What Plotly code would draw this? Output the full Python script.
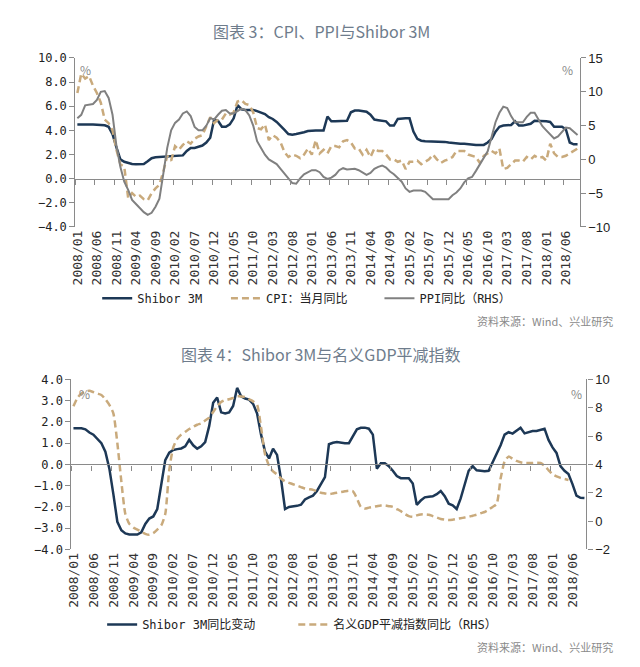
import pandas as pd
import plotly.graph_objects as go

# page body keeps its default 8px margin, so the figure is drawn 8px in from the window edge
OFF = 8
W, H = 640 - 2 * OFF, 667 - 2 * OFF

# months 2008/01 .. 2018/09
months = [p.strftime("%Y/%m") for p in pd.period_range("2008-01", "2018-09", freq="M")]
tick_every = 5

# chart 3 (left axis %, right axis %)
shibor_3m = [
    4.50, 4.52, 4.52, 4.50, 4.50, 4.48, 4.46, 4.42, 4.30, 3.70, 2.60, 1.60,
    1.40, 1.28, 1.22, 1.20, 1.20, 1.22, 1.45, 1.70, 1.78, 1.80, 1.80, 1.82,
    1.85, 1.87, 1.90, 1.93, 2.30, 2.55, 2.55, 2.65, 2.75, 3.00, 3.40, 4.90,
    4.80, 4.30, 4.30, 4.50, 5.00, 6.10, 5.75, 5.70, 5.70, 5.70, 5.60, 5.50,
    5.35, 5.10, 4.95, 4.70, 4.40, 4.05, 3.70, 3.65, 3.70, 3.75, 3.85, 3.95,
    4.00, 4.00, 4.00, 4.00, 5.15, 4.75, 4.75, 4.75, 4.75, 4.80, 5.50, 5.65,
    5.65, 5.60, 5.55, 5.30, 4.90, 4.85, 4.80, 4.75, 4.40, 4.40, 4.95, 5.00,
    5.00, 5.00, 3.90, 3.30, 3.15, 3.10, 3.10, 3.10, 3.05, 3.05, 3.05, 3.00,
    2.95, 2.90, 2.90, 2.90, 2.85, 2.80, 2.80, 2.80, 2.80, 3.00, 3.30, 3.90,
    4.30, 4.40, 4.40, 4.45, 4.75, 4.40, 4.40, 4.45, 4.55, 4.80, 4.80, 4.80,
    4.75, 4.70, 4.30, 4.30, 4.30, 4.10, 3.00, 2.85, 2.85,
]
cpi_yoy = [
    7.1, 8.7, 8.3, 8.5, 7.7, 7.1, 6.3, 4.9, 4.6, 4.0, 2.4, 1.2,
    1.0, -1.6, -1.2, -1.5, -1.4, -1.7, -1.8, -1.2, -0.8, -0.5, 0.6, 1.9,
    1.5, 2.7, 2.4, 2.8, 3.1, 2.9, 3.3, 3.5, 3.6, 4.4, 5.1, 4.6,
    4.9, 4.9, 5.4, 5.3, 5.5, 6.4, 6.5, 6.2, 6.1, 5.5, 4.2, 4.1,
    4.5, 3.2, 3.6, 3.4, 3.0, 2.2, 1.8, 2.0, 1.9, 1.7, 2.0, 2.5,
    2.0, 3.2, 2.1, 2.4, 2.1, 2.7, 2.7, 2.6, 3.1, 3.2, 3.0, 2.5,
    2.5, 2.0, 2.4, 1.8, 2.5, 2.3, 2.3, 2.0, 1.6, 1.6, 1.4, 1.5,
    0.8, 1.4, 1.4, 1.5, 1.2, 1.4, 1.6, 2.0, 1.6, 1.3, 1.5, 1.6,
    1.8, 2.3, 2.3, 2.3, 2.0, 1.9, 1.8, 1.3, 1.9, 2.1, 2.3, 2.1,
    2.5, 0.8, 0.9, 1.2, 1.5, 1.5, 1.4, 1.8, 1.6, 1.9, 1.7, 1.8,
    1.5, 2.9, 2.1, 1.8, 1.8, 1.9, 2.1, 2.3, 2.5,
]
ppi_yoy = [
    6.1, 6.6, 8.0, 8.1, 8.2, 8.8, 10.0, 10.1, 9.1, 6.6, 2.0, -1.1,
    -3.3, -4.5, -6.0, -6.6, -7.2, -7.8, -8.2, -7.9, -7.0, -5.8, -2.1, 1.7,
    4.3, 5.4, 5.9, 6.8, 7.1, 6.4, 4.8, 4.3, 4.3, 5.0, 6.1, 5.9,
    6.6, 7.2, 7.3, 6.8, 6.8, 7.1, 7.5, 7.3, 6.5, 5.0, 2.7, 1.7,
    0.7, 0.0, -0.3, -0.7, -1.4, -2.1, -2.9, -3.5, -3.6, -2.8, -2.2, -1.9,
    -1.6, -1.6, -1.9, -2.6, -2.9, -2.7, -2.3, -1.6, -1.3, -1.5, -1.4, -1.4,
    -1.6, -2.0, -2.3, -2.0, -1.4, -1.1, -0.9, -1.2, -1.8, -2.2, -2.7, -3.3,
    -4.3, -4.8, -4.6, -4.6, -4.6, -4.8, -5.4, -5.9, -5.9, -5.9, -5.9, -5.9,
    -5.3, -4.9, -4.3, -3.4, -2.8, -2.6, -1.7, -0.8, 0.1, 1.2, 3.3, 5.5,
    6.9, 7.8, 7.6, 6.4, 5.5, 5.5, 5.5, 6.3, 6.9, 6.9, 5.8, 4.9,
    4.3, 3.7, 3.1, 3.4, 4.1, 4.7, 4.6, 4.1, 3.6,
]

# chart 4
shibor_yoy_chg = [
    1.70, 1.70, 1.70, 1.65, 1.50, 1.40, 1.20, 1.00, 0.60, -0.20, -1.40, -2.70,
    -3.10, -3.25, -3.30, -3.30, -3.30, -3.20, -2.80, -2.55, -2.45, -2.10, -1.00, 0.20,
    0.55, 0.68, 0.72, 0.75, 0.85, 1.16, 0.90, 0.74, 0.85, 1.05, 1.80, 2.90,
    3.15, 2.45, 2.40, 2.45, 2.75, 3.60, 3.20, 3.10, 3.05, 2.85, 2.40, 1.40,
    0.60, 0.28, 0.74, 0.45, -0.70, -2.10, -2.00, -1.98, -1.95, -1.90, -1.65, -1.55,
    -1.47, -1.25, -0.95, -0.60, 0.95, 1.02, 1.05, 1.02, 1.00, 1.00, 1.35, 1.65,
    1.72, 1.73, 1.68, 1.40, -0.20, 0.05, 0.05, -0.08, -0.30, -0.55, -0.65, -0.65,
    -0.65, -0.90, -1.90, -1.70, -1.55, -1.52, -1.50, -1.40, -1.25, -1.50, -1.85, -1.93,
    -2.10, -1.60, -1.00, -0.30, -0.08, -0.28, -0.30, -0.32, -0.30, 0.10, 0.50, 0.90,
    1.40, 1.52, 1.45, 1.60, 1.72, 1.46, 1.52, 1.57, 1.57, 1.62, 1.68, 1.15,
    0.80, 0.54, -0.08, -0.30, -0.45, -0.93, -1.47, -1.57, -1.58,
]
gdp_deflator_yoy = [
    8.1, 8.7, 9.0, 9.15, 9.2, 9.1, 9.0, 8.9, 8.6, 8.2, 7.6, 5.5,
    2.8, 0.5, -0.2, -0.45, -0.6, -0.75, -0.9, -0.97, -0.85, -0.6, -0.3, 0.5,
    3.6, 5.2, 5.8, 6.1, 6.3, 6.5, 6.65, 6.8, 6.9, 7.1, 7.3, 7.7,
    8.1, 8.4, 8.55, 8.6, 8.7, 8.8, 8.8, 8.75, 8.6, 8.45, 8.2, 6.6,
    4.7, 3.9, 3.5, 3.3, 3.0, 2.8, 2.7, 2.6, 2.5, 2.4, 2.3, 2.25,
    2.2, 2.1, 2.0, 1.95, 1.9, 1.95, 2.0, 2.05, 2.1, 2.14, 2.1, 1.6,
    1.0, 0.88, 0.95, 1.0, 1.05, 1.1, 1.1, 1.05, 1.0, 0.85, 0.7, 0.5,
    0.35, 0.3, 0.4, 0.47, 0.48, 0.45, 0.35, 0.25, 0.15, 0.1, 0.07, 0.1,
    0.15, 0.2, 0.25, 0.3, 0.38, 0.45, 0.55, 0.64, 0.8, 1.0, 1.2, 3.0,
    4.2, 4.55, 4.4, 4.25, 4.15, 4.1, 4.1, 4.1, 4.12, 4.1, 3.9, 3.6,
    3.3, 3.15, 3.05, 2.97, 2.9, None, None, None, None,
]

NAVY = "#1d3856"
TAN = "#c9aa7c"
GRAY = "#808080"
AXIS = "#8a8a8a"
MONO = "DejaVu Sans Mono, Noto Sans CJK SC"
SANS = "Liberation Sans, Arial"
CJK = "Noto Sans CJK SC"

idx = list(range(len(months)))
tickvals = idx[::tick_every]
ticktext = months[::tick_every]
boundary_ticks = [i - 0.5 for i in range(0, len(months) + 1, tick_every)]
xrange = [-0.5, len(months) - 0.5]


# positions below are given in window pixels
def px_x(x):
    return (x - OFF) / W


def px_y(y):
    return 1 - (y - OFF) / H


def zero_pos(dom, rng):
    return dom[0] + (0 - rng[0]) / (rng[1] - rng[0]) * (dom[1] - dom[0])


c1_xdom = [px_x(70), px_x(579)]
c1_ydom = [px_y(225), px_y(52)]
c2_xdom = [px_x(66), px_x(586)]
c2_ydom = [px_y(555), px_y(381)]
c1_left, c1_right = [-4, 10], [-10, 15]
c2_left, c2_right = [-4, 4], [-2, 10]

fig = go.Figure()

fig.add_trace(go.Scatter(x=idx, y=shibor_3m, name="Shibor 3M", xaxis="x", yaxis="y",
                         mode="lines", line=dict(color=NAVY, width=2.5), legend="legend"))
fig.add_trace(go.Scatter(x=idx, y=cpi_yoy, name="CPI：当月同比", xaxis="x", yaxis="y",
                         mode="lines", line=dict(color=TAN, width=2.5, dash="7px,4px"), legend="legend2"))
fig.add_trace(go.Scatter(x=idx, y=ppi_yoy, name="PPI同比（RHS）", xaxis="x", yaxis="y2",
                         mode="lines", line=dict(color=GRAY, width=2), legend="legend3"))

fig.add_trace(go.Scatter(x=idx, y=shibor_yoy_chg, name="Shibor 3M同比变动", xaxis="x2", yaxis="y3",
                         mode="lines", line=dict(color=NAVY, width=2.5), legend="legend4"))
fig.add_trace(go.Scatter(x=idx, y=gdp_deflator_yoy, name="名义GDP平减指数同比（RHS）", xaxis="x2", yaxis="y4",
                         mode="lines", line=dict(color=TAN, width=2.5, dash="7px,4px", shape="spline", smoothing=0.6),
                         legend="legend5"))

# carriers for the zero-line axes
fig.add_trace(go.Scatter(x=[None], y=[None], xaxis="x3", yaxis="y", showlegend=False, hoverinfo="skip"))
fig.add_trace(go.Scatter(x=[None], y=[None], xaxis="x4", yaxis="y3", showlegend=False, hoverinfo="skip"))

xbase = dict(range=xrange, tickmode="array", tickvals=tickvals, ticktext=ticktext, tickangle=-90,
             showline=False, ticks="", showgrid=False, zeroline=False,
             tickfont=dict(family=MONO, size=13, color="#333"))
xzero = dict(range=xrange, tickmode="array", tickvals=boundary_ticks, showticklabels=False,
             showline=True, linecolor=AXIS, linewidth=1.3, ticks="outside", ticklen=5,
             tickcolor=AXIS, showgrid=False, zeroline=False, anchor="free")
yleft = dict(showline=True, linecolor=AXIS, linewidth=1.3, ticks="outside", ticklen=5, tickcolor=AXIS,
             showgrid=False, zeroline=False, tickformat=".1f",
             tickfont=dict(family=MONO, size=12, color="#222"))
yright = dict(showline=True, linecolor=AXIS, linewidth=1.3, ticks="outside", ticklen=5, tickcolor=AXIS,
              showgrid=False, zeroline=False, side="right",
              tickfont=dict(family=SANS, size=13, color="#222"))


def legend_at(x, y):
    return dict(orientation="h", x=px_x(x), y=px_y(y), xanchor="left", yanchor="middle",
                font=dict(family=MONO, size=12, color="#222"), bgcolor="rgba(0,0,0,0)")


fig.update_layout(
    width=W, height=H,
    margin=dict(l=0, r=0, t=0, b=0),
    paper_bgcolor="white", plot_bgcolor="rgba(0,0,0,0)",
    xaxis=dict(xbase, domain=c1_xdom, anchor="y"),
    yaxis=dict(yleft, domain=c1_ydom, range=c1_left, dtick=2, anchor="x"),
    yaxis2=dict(yright, range=c1_right, dtick=5, overlaying="y", anchor="x"),
    xaxis3=dict(xzero, overlaying="x", position=zero_pos(c1_ydom, c1_left)),
    xaxis2=dict(xbase, domain=c2_xdom, anchor="y3"),
    yaxis3=dict(yleft, domain=c2_ydom, range=c2_left, dtick=1, anchor="x2"),
    yaxis4=dict(yright, range=c2_right, dtick=2, overlaying="y3", anchor="x2"),
    xaxis4=dict(xzero, overlaying="x2", position=zero_pos(c2_ydom, c2_left)),
    legend=legend_at(92, 298),
    legend2=legend_at(222, 298),
    legend3=legend_at(377, 298),
    legend4=legend_at(97, 632),
    legend5=legend_at(290, 632),
    showlegend=True,
)

notes = [
    ("图表 3：CPI、PPI与Shibor 3M", 318, 24, 16, "#6e7c8c", "center"),
    ("图表 4：Shibor 3M与名义GDP平减指数", 318, 355, 16, "#6e7c8c", "center"),
    ("资料来源：Wind、兴业研究", 615, 321, 11, "#8a8a8a", "right"),
    ("资料来源：Wind、兴业研究", 615, 655, 11, "#8a8a8a", "right"),
    ("%", 80, 64, 12, "#8a8a8a", "center"),
    ("%", 567, 64, 12, "#8a8a8a", "center"),
    ("%", 79, 395, 12, "#8a8a8a", "center"),
    ("%", 576, 395, 12, "#8a8a8a", "center"),
]
for text, x, y, size, color, anchor in notes:
    fig.add_annotation(text=text, x=px_x(x), y=px_y(y), xref="paper", yref="paper",
                       xanchor=anchor, yanchor="middle", showarrow=False,
                       font=dict(family=CJK, size=size, color=color))

fig.write_html("out.html")
